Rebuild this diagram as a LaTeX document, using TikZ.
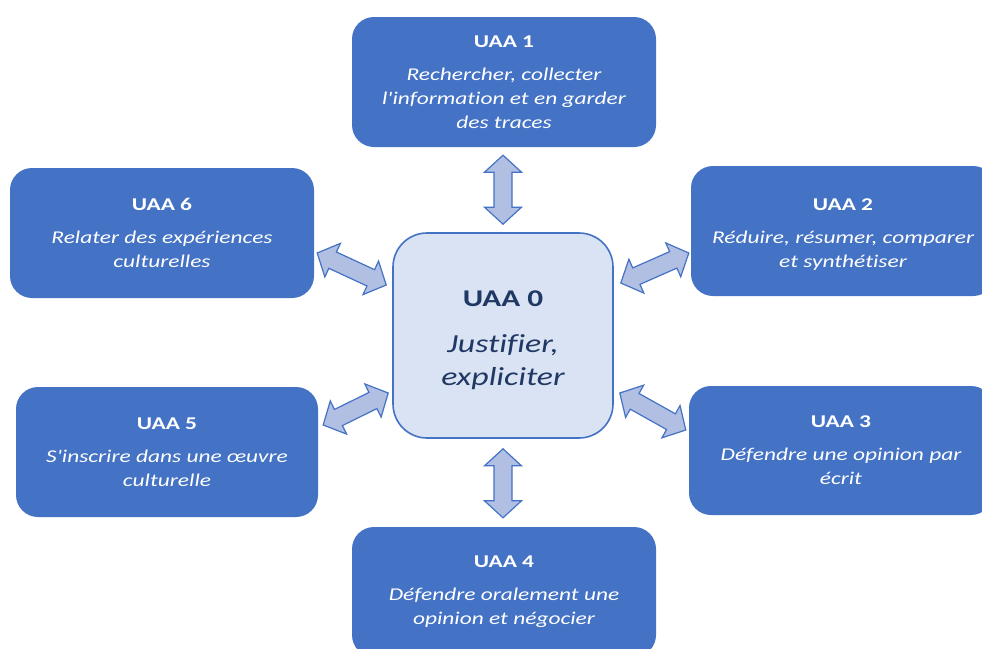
\documentclass[tikz,border=0pt]{standalone}
\usepackage{fontspec}
\usetikzlibrary{calc}
\newfontfamily\calf[FakeStretch=1.3,Ligatures=NoCommon]{Carlito}
\definecolor{boxblue}{HTML}{4472C4}
\definecolor{centerfill}{HTML}{DAE3F3}
\definecolor{arrfill}{HTML}{B1BFE2}
\definecolor{navy}{HTML}{1F3864}
\newcommand\blockarrow[2]{%
  \coordinate (ba-a) at (#1); \coordinate (ba-b) at (#2);
  \coordinate (ba-h1) at ($(ba-a)!17pt!(ba-b)$);
  \coordinate (ba-h2) at ($(ba-b)!17pt!(ba-a)$);
  \draw[blockarr] (ba-a) -- ($(ba-h1)!18.5pt!90:(ba-b)$) -- ($(ba-h1)!9pt!90:(ba-b)$)
    -- ($(ba-h2)!9pt!-90:(ba-a)$) -- ($(ba-h2)!18.5pt!-90:(ba-a)$) -- (ba-b)
    -- ($(ba-h2)!18.5pt!90:(ba-a)$) -- ($(ba-h2)!9pt!90:(ba-a)$)
    -- ($(ba-h1)!9pt!-90:(ba-b)$) -- ($(ba-h1)!18.5pt!-90:(ba-b)$) -- cycle;}
\tikzset{
  uaa/.style={rectangle, rounded corners=22pt, fill=boxblue, text=white,
    minimum width=304pt, minimum height=130pt, inner sep=0pt, align=center,
    font=\calf\fontsize{18}{24}\selectfont\itshape},
  centerbox/.style={rectangle, rounded corners=34pt, fill=centerfill, draw=boxblue,
    line width=1.6pt, text=navy, minimum width=220pt, minimum height=205pt,
    inner sep=0pt, align=center, font=\calf\fontsize{26}{31}\selectfont\itshape},
  blockarr/.style={draw=boxblue, fill=arrfill, line width=1.2pt, line join=miter}
}
\begin{document}
\begin{tikzpicture}[x=1pt,y=-1pt]
\useasboundingbox (0,0) rectangle (982,648);
\fill[white] (0,0) rectangle (982,648);
\node[uaa] (u1) at (504,82) {{\upshape\bfseries UAA 1}\\[9pt]Rechercher, collecter\\l'information et en garder\\des traces};
\node[uaa] (u6) at (162,233) {{\upshape\bfseries UAA 6}\\[9pt]Relater des expériences\\culturelles};
\node[uaa] (u2) at (843,231) {\rule{0pt}{18pt}{\upshape\bfseries UAA 2}\\[9pt]Réduire, résumer, comparer\\et synthétiser};
\node[centerbox] (u0) at (503,335.5) {\rule{0pt}{26pt}{\upshape\bfseries\fontsize{24}{31}\selectfont UAA 0}\\[15pt]Justifier,\\[2pt]expliciter};
\node[uaa, minimum width=302pt] (u5) at (167,452) {{\upshape\bfseries UAA 5}\\[9pt]S'inscrire dans une œuvre\\culturelle};
\node[uaa, minimum height=129pt] (u3) at (841,450.5) {{\upshape\bfseries UAA 3}\\[9pt]Défendre une opinion par\\écrit};
\node[uaa] (u4) at (504,592) {{\upshape\bfseries UAA 4}\\[9pt]Défendre oralement une\\opinion et négocier};
\blockarrow{$(u1.south)+(-1,8)$}{$(u0.north)+(0,-8)$}
\blockarrow{$(u0.south)+(0,10)$}{$(u4.north)+(-1,-9)$}
\blockarrow{$(u6.east)+(3,20)$}{$(u0.west)+(-6,-50.5)$}
\blockarrow{$(u0.east)+(7,-52.5)$}{$(u2.west)+(-2,22)$}
\blockarrow{$(u5.east)+(5,-27)$}{$(u0.west)+(-4,57.5)$}
\blockarrow{$(u0.east)+(6,57.5)$}{$(u3.west)+(-3,-20.5)$}
\end{tikzpicture}
\end{document}
